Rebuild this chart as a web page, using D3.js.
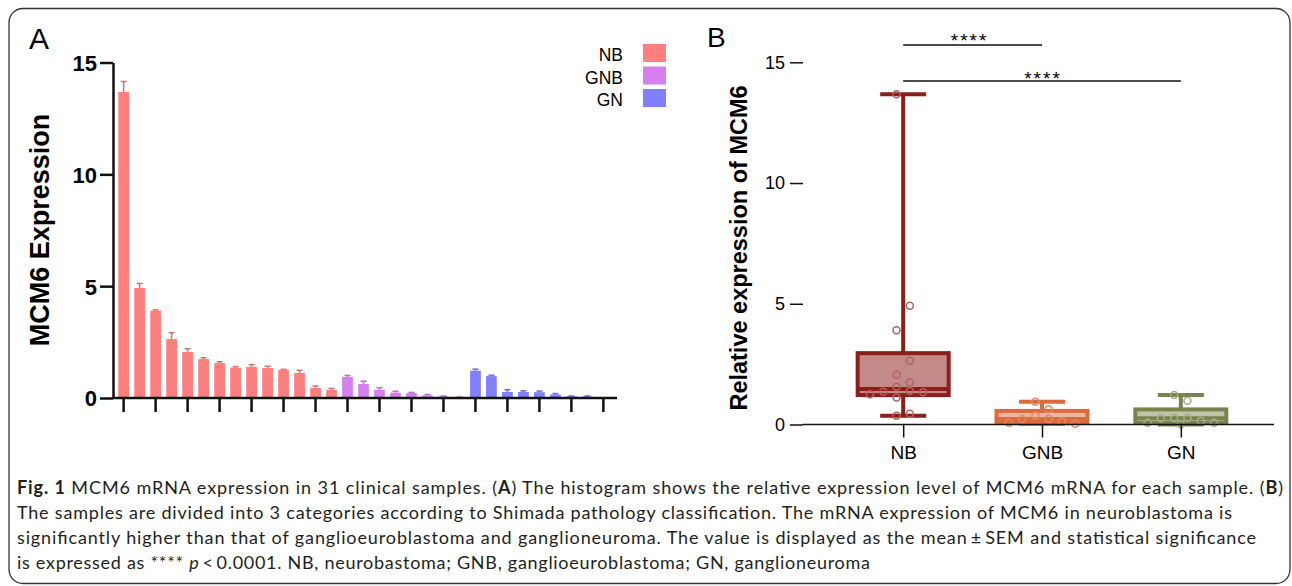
<!DOCTYPE html>
<html>
<head>
<meta charset="utf-8">
<script src="https://cdn.jsdelivr.net/npm/d3@7"></script>
<style>
body { margin: 0; background: #fff; }
svg { display: block; font-family: "Liberation Sans", Arial, sans-serif; }
</style>
</head>
<body>
<svg id="fig" width="1292" height="586"></svg>
<script>
// panel A: one bar per sample, ordered inside each group
let nbValues  = [13.68, 4.92, 3.90, 2.64, 2.06, 1.74, 1.56, 1.36, 1.39, 1.34, 1.25, 1.12, 0.45, 0.36];
let nbErrors  = [0.47, 0.20, 0.04, 0.28, 0.14, 0.06, 0.06, 0.04, 0.10, 0.08, 0.03, 0.12, 0.09, 0.07];
let gnbValues = [0.94, 0.63, 0.36, 0.24, 0.22, 0.12, 0.07, 0.03];
let gnbErrors = [0.07, 0.12, 0.10, 0.06, 0.03, 0.04, 0.02, 0.01];
let gnValues  = [1.22, 0.98, 0.27, 0.27, 0.26, 0.16, 0.07, 0.07, 0.00];
let gnErrors  = [0.07, 0.04, 0.10, 0.05, 0.05, 0.04, 0.02, 0.02, 0.00];
let groups = ["NB", "GNB", "GN"];
let yTicks = [0, 5, 10, 15];
let stars = "****";

let captionLines = [
    [["Fig. 1", "b"], [" MCM6 mRNA expression in 31 clinical samples. (", ""], ["A", "b"], [") The histogram shows the relative expression level of MCM6 mRNA for each sample. (", ""], ["B", "b"], [")", ""]],
    [["The samples are divided into 3 categories according to Shimada pathology classification. The mRNA expression of MCM6 in neuroblastoma is", ""]],
    [["significantly higher than that of ganglioeuroblastoma and ganglioneuroma. The value is displayed as the mean\u2009\u00b1\u2009SEM and statistical significance", ""]],
    [["is expressed as **** ", ""], ["p", "i"], ["\u2009<\u20090.0001. NB, neurobastoma; GNB, ganglioeuroblastoma; GN, ganglioneuroma", ""]]
];
let captionWidths = [1266, 1215, 1239, 853];

let barColor = {NB: "#ff7f7f", GNB: "#d580ee", GN: "#7f7fff"};
let boxStroke = {NB: "#8c1f1c", GNB: "#db6a3c", GN: "#78834e"};
let boxFill = {NB: "#c48a87", GNB: "#ebb7a2", GN: "#bfc4a9"};
let dotStroke = {NB: "#b5625f", GNB: "#e08a66", GN: "#a6ad89"};

let svg = d3.select("#fig");

// frame
svg.append("rect")
    .attr("x", 9).attr("y", 8.5)
    .attr("width", 1281).attr("height", 575)
    .attr("rx", 14)
    .style("fill", "none")
    .style("stroke", "#333")
    .style("stroke-width", 1.3);

function buildSamples() {
    let samples = [];
    let lists = {NB: [nbValues, nbErrors], GNB: [gnbValues, gnbErrors], GN: [gnValues, gnErrors]};
    groups.forEach(function(g) {
        lists[g][0].forEach(function(v, i) {
            samples.push({id: samples.length + 1, group: g, value: v, err: lists[g][1][i]});
        });
    });
    return samples;
}

function drawPanelA() {
    let samples = buildSamples();
    let gA = svg.append("g");

    let x = d3.scaleBand()
        .domain(samples.map(d => d.id))
        .range([113, 614])
        .padding(0.33);
    let y = d3.scaleLinear().domain([0, 15]).range([398, 62.5]);

    gA.append("text").attr("x", 29).attr("y", 49)
        .style("font-size", "30px").text("A");

    // bars
    gA.append("g").selectAll("rect")
        .data(samples)
        .enter().append("rect")
        .attr("x", d => x(d.id))
        .attr("y", d => y(d.value))
        .attr("width", x.bandwidth())
        .attr("height", d => y(0) - y(d.value))
        .style("fill", d => barColor[d.group]);

    // error bars (upper half only shows)
    let err = gA.append("g").selectAll("g")
        .data(samples.filter(d => d.err > 0))
        .enter().append("g")
        .style("stroke", d => d3.color(barColor[d.group]).darker(0.4))
        .style("stroke-width", 1.5);
    err.append("line")
        .attr("x1", d => x(d.id) + x.bandwidth() / 2)
        .attr("x2", d => x(d.id) + x.bandwidth() / 2)
        .attr("y1", d => y(d.value))
        .attr("y2", d => y(d.value + d.err));
    err.append("line")
        .attr("x1", d => x(d.id) + x.bandwidth() / 2 - 3)
        .attr("x2", d => x(d.id) + x.bandwidth() / 2 + 3)
        .attr("y1", d => y(d.value + d.err))
        .attr("y2", d => y(d.value + d.err));

    // axes
    let yAxis = gA.append("g")
        .attr("transform", "translate(113,0)")
        .call(d3.axisLeft(y).tickValues(yTicks).tickSize(13).tickSizeOuter(0).tickPadding(3));
    yAxis.selectAll("text").style("font-size", "22px").style("font-weight", "bold").attr("dy", "0.36em");

    let xAxis = gA.append("g")
        .attr("transform", "translate(0,398)")
        .call(d3.axisBottom(x).tickValues(samples.filter(d => d.id % 2 == 1).map(d => d.id))
            .tickSize(14).tickSizeOuter(0).tickFormat(""));
    xAxis.select(".domain").attr("d", "M113,0H617");

    gA.selectAll(".domain, .tick line").style("stroke", "#111").style("stroke-width", 2.5);

    gA.append("text")
        .attr("transform", "translate(49,230) rotate(-90)")
        .attr("text-anchor", "middle")
        .style("font-size", "27px").style("font-weight", "bold")
        .text("MCM6 Expression");

    // legend
    let legend = gA.append("g").selectAll("g")
        .data(groups)
        .enter().append("g")
        .attr("transform", (d, i) => "translate(0," + (44 + i * 22.5) + ")");
    legend.append("rect")
        .attr("x", 643).attr("width", 23).attr("height", 18)
        .style("fill", d => barColor[d]);
    legend.append("text")
        .attr("x", 623).attr("y", 17)
        .attr("text-anchor", "end")
        .style("font-size", "17.5px")
        .text(d => d);
}

function quantile(sorted, p) {
    let h = (sorted.length + 1) * p - 1;
    h = Math.max(0, Math.min(sorted.length - 1, h));
    let lo = Math.floor(h);
    let hi = Math.min(sorted.length - 1, lo + 1);
    return sorted[lo] + (h - lo) * (sorted[hi] - sorted[lo]);
}

// simple swarm: alternate sides, push outwards on overlap
function swarm(values, y, r) {
    let placed = [];
    let lastSide = 1;
    values.slice().sort((a, b) => b - a).forEach(function(v) {
        let py = y(v);
        let slots = lastSide > 0 ? [-0.5, 0.5, -1.5, 1.5, -2.5, 2.5] : [0.5, -0.5, 1.5, -1.5, 2.5, -2.5];
        let slot = slots.find(s => !placed.some(p => p.slot === s && Math.abs(p.y - py) < 2 * r + 1));
        if (slot === undefined) slot = 0;
        placed.push({value: v, slot: slot, y: py});
        lastSide = slot;
    });
    return placed;
}

function drawPanelB() {
    let gB = svg.append("g");
    let x = d3.scalePoint().domain(groups).range([806, 1278]).padding(0.7);
    let y = d3.scaleLinear().domain([0, 15]).range([424.5, 62.3]);
    let valuesOf = {NB: nbValues, GNB: gnbValues, GN: gnValues};

    gB.append("text").attr("x", 707).attr("y", 47)
        .style("font-size", "28px").text("B");

    let stats = groups.map(function(g) {
        let s = valuesOf[g].slice().sort(d3.ascending);
        return {group: g, values: s, min: s[0], max: s[s.length - 1],
                q1: quantile(s, 0.25), med: quantile(s, 0.5), q3: quantile(s, 0.75)};
    });

    let box = gB.append("g").selectAll("g")
        .data(stats)
        .enter().append("g")
        .style("stroke", d => boxStroke[d.group])
        .style("stroke-width", 4);

    box.append("line")
        .attr("x1", d => x(d.group)).attr("x2", d => x(d.group))
        .attr("y1", d => y(d.max)).attr("y2", d => y(d.min));
    box.append("line")
        .attr("x1", d => x(d.group) - 23).attr("x2", d => x(d.group) + 23)
        .attr("y1", d => y(d.max)).attr("y2", d => y(d.max));
    box.append("line")
        .attr("x1", d => x(d.group) - 23).attr("x2", d => x(d.group) + 23)
        .attr("y1", d => y(d.min)).attr("y2", d => y(d.min));
    box.append("rect")
        .attr("x", d => x(d.group) - 45.5)
        .attr("width", 91)
        .attr("y", d => y(d.q3))
        .attr("height", d => y(d.q1) - y(d.q3))
        .style("fill", d => boxFill[d.group]);
    box.append("line")
        .attr("x1", d => x(d.group) - 45.5).attr("x2", d => x(d.group) + 45.5)
        .attr("y1", d => y(d.med)).attr("y2", d => y(d.med));

    // individual samples
    stats.forEach(function(st) {
        gB.append("g").selectAll("circle")
            .data(swarm(st.values, y, 3.5))
            .enter().append("circle")
            .attr("cx", d => x(st.group) + d.slot * 13.3)
            .attr("cy", d => d.y)
            .attr("r", 3.5)
            .style("fill", "none")
            .style("stroke", dotStroke[st.group])
            .style("stroke-width", 1.5);
    });

    // axes
    let yAxis = gB.append("g")
        .attr("transform", "translate(803,0)")
        .call(d3.axisLeft(y).tickValues(yTicks).tickSize(13).tickPadding(5));
    yAxis.select(".domain").remove();
    yAxis.selectAll("text").style("font-size", "18px");

    let xAxis = gB.append("g")
        .attr("transform", "translate(0,424.5)")
        .call(d3.axisBottom(x).tickSize(13).tickSizeOuter(0).tickPadding(8));
    xAxis.select(".domain").attr("d", "M803,0H1274");
    xAxis.selectAll("text").style("font-size", "19px");
    gB.selectAll(".domain, .tick line").style("stroke", "#111").style("stroke-width", 1.5);

    gB.append("text")
        .attr("transform", "translate(747,248) rotate(-90)")
        .attr("text-anchor", "middle")
        .style("font-size", "23.5px").style("font-weight", "bold")
        .text("Relative expression of MCM6");

    // significance brackets
    let comparisons = [["NB", "GNB"], ["NB", "GN"]];
    let sig = gB.append("g").selectAll("g")
        .data(comparisons)
        .enter().append("g");
    sig.append("line")
        .attr("x1", d => x(d[0])).attr("x2", d => x(d[1]))
        .attr("y1", (d, i) => 45 + i * 36).attr("y2", (d, i) => 45 + i * 36)
        .style("stroke", "#111").style("stroke-width", 1.5);
    sig.append("text")
        .attr("x", (d, i) => (x(d[0]) + x(d[1])) / 2 - (i == 0 ? 4 : 0) + 1)
        .attr("y", (d, i) => 47 + i * 37.5)
        .attr("text-anchor", "middle")
        .style("font-size", "19px")
        .style("letter-spacing", "2px")
        .text(stars);
}

function drawCaption() {
    let cap = svg.append("g").style("font-family", "Lato, 'Open Sans', sans-serif").style("font-size", "18px").style("fill", "#231f20");
    captionLines.forEach(function(line, i) {
        let t = cap.append("text")
            .attr("x", 17)
            .attr("y", 494 + i * 25)
            .attr("textLength", captionWidths[i])
            .attr("lengthAdjust", "spacing");
        line.forEach(function(seg) {
            t.append("tspan")
                .style("font-weight", seg[1] == "b" ? "bold" : null)
                .style("font-style", seg[1] == "i" ? "italic" : null)
                .text(seg[0]);
        });
    });
}

drawPanelA();
drawPanelB();
drawCaption();
</script>
</body>
</html>
